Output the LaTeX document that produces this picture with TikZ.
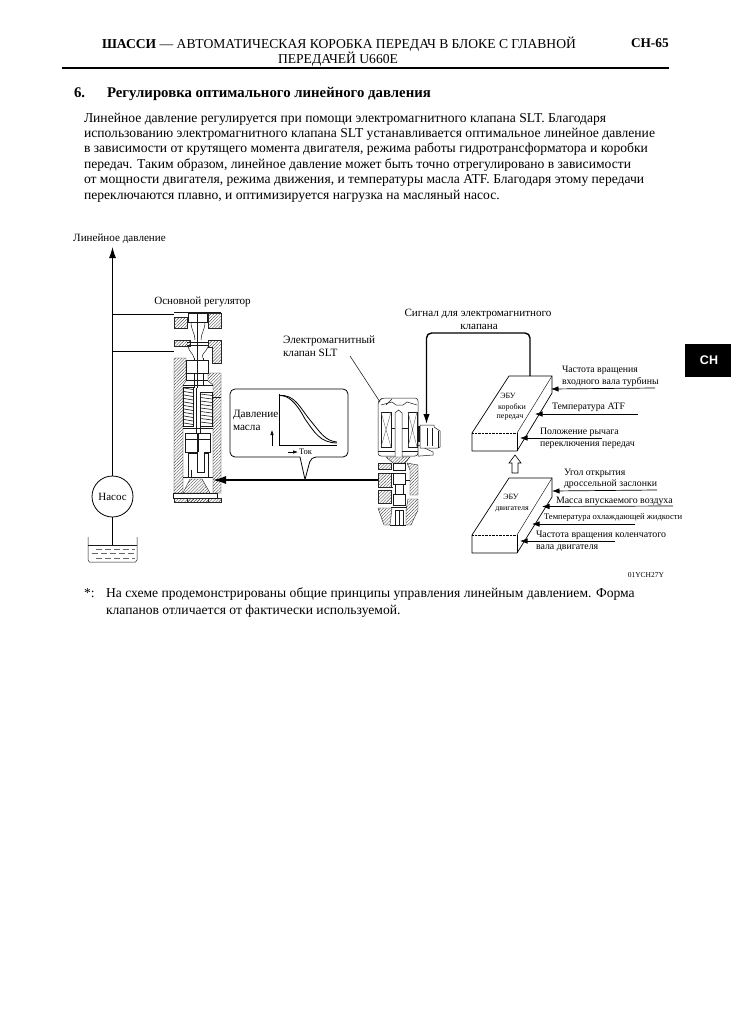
\documentclass[tikz,border=0pt]{standalone}
\usepackage{fontspec}
\setmainfont{Liberation Serif}
\newfontfamily\tabfont{Liberation Sans}
\usetikzlibrary{arrows.meta,patterns.meta}
\newcommand{\fz}[1]{\fontsize{#1}{#1}\selectfont}
\tikzset{
  txt/.style={inner sep=0pt,outer sep=0pt,anchor=base west,yshift={-0.3*#1 pt},font=\fz{#1}},
  txt/.default=13.6,
  ctxt/.style={inner sep=0pt,outer sep=0pt,anchor=base,yshift={-0.3*#1 pt},font=\fz{#1}},
  ctxt/.default=11.1,
  hat/.style={pattern={Lines[angle=45,distance=2.2pt,line width=.4pt]},pattern color=black!70,draw=black!85,line width=.4pt},
  part/.style={draw=black!90,line width=.5pt},
  partw/.style={draw=black!90,fill=white,line width=.5pt},
  lead/.style={draw=black!85,line width=.6pt},
  sens/.style={draw=black,line width=.7pt,-{Latex[length=7.5pt,width=5.5pt]}},
  ecu/.style={draw=black,fill=white,line width=.7pt}
}
\begin{document}
\begin{tikzpicture}[x=1pt,y=-1pt]
\useasboundingbox (0,0) rectangle (731,1035);
\fill[white] (0,0) rectangle (731,1035);
% header
\node[txt=13.6] (h1) at (102,44) {\textbf{ШАССИ} — АВТОМАТИЧЕСКАЯ КОРОБКА ПЕРЕДАЧ В БЛОКЕ С ГЛАВНОЙ};
\node[txt=13.6] (h2) at (278,59) {ПЕРЕДАЧЕЙ U660E};
\node[txt=13.3] (h3) at (631,44) {\textbf{CH-65}};
\fill (62,66.6) rectangle (669,68.6);
\node[txt=14.8] (s0) at (74,93.5) {\textbf{6.}};
\node[txt=14.8] (s1) at (107,93.5) {\textbf{Регулировка оптимального линейного давления}};
\node[txt] (p1) at (84,118) {Линейное давление регулируется при помощи электромагнитного клапана SLT. Благодаря};
\node[txt] (p2) at (84,133) {использованию электромагнитного клапана SLT устанавливается оптимальное линейное давление};
\node[txt] (p3) at (84,148.5) {в зависимости от крутящего момента двигателя, режима работы гидротрансформатора и коробки};
\node[txt] (p4) at (84,164) {передач. Таким образом, линейное давление может быть точно отрегулировано в зависимости};
\node[txt] (p5) at (84,179.5) {от мощности двигателя, режима движения, и температуры масла ATF. Благодаря этому передачи};
\node[txt] (p6) at (84,195) {переключаются плавно, и оптимизируется нагрузка на масляный насос.};
% side tab
\fill[black] (685,344) rectangle (731,377);
\node[ctxt=12.5,text=white,font=\tabfont\bfseries\fz{12.5}] (tab) at (709,361) {CH};
% footnote
\node[txt] (f0) at (84,593) {*:};
\node[txt] (f1) at (106,593) {На схеме продемонстрированы общие принципы управления линейным давлением. Форма};
\node[txt] (f2) at (106,610) {клапанов отличается от фактически используемой.};
\node[ctxt=7.5,anchor=base east] (code) at (664,575) {01YCH27Y};

% ---- labels
\node[ctxt] (lp) at (119.5,238) {Линейное давление};
\node[ctxt] (mr) at (202.5,301) {Основной регулятор};
\node[txt=11.2] (em1) at (283,340) {Электромагнитный};
\node[txt=11.2] (em2) at (283,353) {клапан SLT};
\node[ctxt] (sg1) at (478,313) {Сигнал для электромагнитного};
\node[ctxt] (sg2) at (479,326) {клапана};

% ---- pump and tank
\node[draw,circle,line width=.8pt,minimum size=41pt,inner sep=0pt,font=\fz{11}] (pump) at (112.5,496.5) {Насос};
\coordinate (ptop) at (112.5,247);
\coordinate (tank) at (112.5,545);
\coordinate (b1) at (112.5,314);
\coordinate (b2) at (112.5,351);
\coordinate (port1) at (174,314);
\coordinate (port2) at (174,351);
\draw[line width=.9pt,-{Latex[length=11pt,width=7pt]}] (pump.north) -- (ptop);
\draw[line width=.9pt] (pump.south) -- (tank);
\draw[line width=.9pt] (b1) -- (port1);
\draw[line width=.9pt] (b2) -- (port2);
\draw[part] (88,537) -- (88,560) -- (89.5,562) -- (135.5,562) -- (137,560) -- (137,537);
\draw[part] (88,545) -- (137,545);
\draw[draw=black!60,line width=.4pt,dash pattern=on 6pt off 3pt] (96,549) -- (135,549);
\draw[draw=black!60,line width=.4pt,dash pattern=on 6pt off 3pt] (92,553.5) -- (135,553.5);
\draw[draw=black!60,line width=.4pt,dash pattern=on 6pt off 3pt] (96,558) -- (135,558);

% ---- main regulator
\draw[part] (174,312.5) -- (221,312.5);
\draw[hat] (174,317) -- (187,317) -- (187,328) -- (174,328) -- cycle;
\draw[hat] (208,313) -- (221,313) -- (221,328) -- (208,328) -- cycle;
\draw[hat] (174,340) -- (190,340) -- (190,346) -- (174,346) -- cycle;
\draw[hat] (208,340) -- (221,340) -- (221,363) -- (212,363) -- (212,347) -- (208,347) -- cycle;
\draw[hat] (174,358) -- (186,358) -- (186,381) -- (183,385) -- (183,493) -- (174,493) -- cycle;
\draw[hat] (221,373) -- (208,373) -- (208,381) -- (213,385) -- (213,493) -- (221,493) -- cycle;
\draw[hat] (174,498) -- (174,502) -- (221,502) -- (221,498) -- cycle;
\draw[partw] (173,493) rectangle (217,498);
\draw[hat] (187,498) rectangle (208,502);
\draw[hat] (183,493) -- (190,479) -- (202,479) -- (210,493) -- cycle;
% spool, upper part
\draw[partw] (188,313) rectangle (197,322);
\draw[partw] (197,313) rectangle (207,322);
\draw[part] (191,322) .. controls (191,330) and (195,333) .. (195,340);
\draw[part] (205,322) .. controls (205,330) and (201,333) .. (201,340);
\draw[part] (187,342) -- (209,342);
\draw[part] (187,345) -- (209,345);
\draw[part] (188,346) .. controls (189,352) and (193,353) .. (194,358);
\draw[part] (208,347) .. controls (206,352) and (202,353) .. (202,358);
\draw[part] (197,322) -- (197,388);
\draw[part] (194,358) -- (194,388);
\draw[part] (203,358) -- (203,385);
\draw[partw] (186,360) rectangle (197,373);
\draw[partw] (197,360) rectangle (208,373);
\draw[part] (186,373) -- (186,380) -- (208,380);
\draw[part] (183,385) -- (213,385);
\draw[part] (213,397) -- (221,397);
% springs
\foreach \yy in {388,391.5,...,425}{
  \draw[part,line width=.6pt] (184,\yy) -- (193,\yy+1.5);
}
\foreach \yy in {394,397.5,...,425}{
  \draw[part,line width=.6pt] (200.5,\yy) -- (212,\yy+1.5);
}
\draw[part] (183.5,387) rectangle (193,426);
\draw[part] (200.5,392) rectangle (212,426);
\draw[part] (196,388) -- (196,452);
\draw[part] (200,392) -- (200,452);
% spool, lower part
\draw[partw] (185,433) rectangle (197,452);
\draw[partw] (198,433) rectangle (210,452);
\draw[part] (183,428) -- (213,428);
\draw[part] (185,439) -- (197,439);
\draw[part] (198,439) -- (210,439);
\draw[partw] (188,453) rectangle (208,477);
\draw[partw] (197,452) -- (197,472) -- (204,472) -- (204,452);
\draw[part] (191,477) -- (191,470);
\draw[part] (183,477) -- (213,477);

% ---- solenoid valve
\draw[partw,rounded corners=3pt] (378,402) -- (382,398) -- (418,398) -- (418,456) -- (378,456) -- cycle;
\draw[part] (386,405) -- (392,399);
\draw[part] (381,405) -- (392,402) -- (396,405) -- (403,405) -- (407,402) -- (417,405);
\draw[part] (381,412) rectangle (391,447);
\draw[part] (408,412) rectangle (417,447);
\draw[draw=black!60,line width=.4pt] (381,412) -- (391,447) (391,412) -- (381,447);
\draw[draw=black!60,line width=.4pt] (408,412) -- (417,447) (417,412) -- (408,447);
\draw[partw] (395,457) -- (395,413) -- (398.5,410) -- (402,413) -- (402,457);
\draw[part] (391,428) -- (395,428) (402,428) -- (408,428);
\draw[part] (378,451) -- (395,451) (402,451) -- (418,451);
% connector
\draw[partw] (418,445) -- (433,452) -- (433,455) -- (420,456) -- (418,456) -- cycle;
\draw[partw] (420,425) -- (434,425) -- (434,427) -- (440,431) -- (440,447) -- (438,448) -- (420,448) -- cycle;
\draw[part] (427,428) -- (427,446) (432,428) -- (432,446) (438,431) -- (438,448);
\draw[part,line width=1.1pt] (419,426) -- (419,442);
% valve lower body
\draw[hat] (378,463) -- (391,463) -- (391,469) -- (378,469) -- cycle;
\draw[hat] (378,473) -- (391,473) -- (391,487) -- (378,487) -- cycle;
\draw[hat] (378,490) -- (391,490) -- (391,503) -- (378,503) -- cycle;
\draw[hat] (378,508) -- (392,508) -- (390,525) -- (384,525) -- cycle;
\draw[hat] (407,463) -- (418,465) -- (418,495) -- (410,495) -- (410,470) -- cycle;
\draw[hat] (408,499) -- (418,499) -- (418,510) -- (411,525) -- (406,525) -- (406,510) -- cycle;
\draw[hat] (386,457) -- (410,457) -- (405,463) -- (393,463) -- cycle;
\draw[part] (391,473) -- (393,473) (391,487) -- (393,487) (405,480) -- (410,480);
\draw[partw] (393,463) rectangle (405,470);
\draw[partw] (393,473) rectangle (405,484);
\draw[partw] (395,484) rectangle (403,494);
\draw[partw] (393,494) rectangle (405,505);
\draw[part] (391,507) -- (407,507);
\draw[partw] (395,510) rectangle (403,525);
\draw[part] (399,510) -- (399,525);
\draw[part,line width=.9pt] (390,525) -- (406,525);

% ---- pressure line with call-out
\coordinate (slvout) at (378,480);
\coordinate (regin) at (213,480);
\draw[line width=1.1pt,-{Latex[length=13pt,width=8pt]}] (slvout) -- (regin);
\draw[line width=.8pt,fill=white,rounded corners=5pt] (300,457) -- (230,457) -- (230,389) -- (348,389) -- (348,457) -- (311,457) [sharp corners] -- (305,479.5) -- cycle;
\draw[line width=.7pt] (279,394) -- (279,445.5) -- (337,445.5);
\draw[line width=.8pt] (279,395.5) .. controls (295,394) and (300,408) .. (310,420) .. controls (320,432) and (325,441) .. (337,442);
\draw[line width=.8pt] (279,395.5) .. controls (288,395) and (296,402) .. (305,419) .. controls (315,433) and (320,442.5) .. (337,443);
\node[txt=11.2] (pr1) at (233,414) {Давление};
\node[txt=11.2] (pr2) at (233,427) {масла};
\coordinate (ya0) at (272,446);
\coordinate (ya1) at (272,430);
\coordinate (xa0) at (288,452);
\coordinate (xa1) at (298,452);
\draw[line width=.6pt,-{Latex[length=5pt,width=3.5pt]}] (ya0) -- (ya1);
\draw[line width=.6pt,-{Latex[length=5pt,width=3.5pt]}] (xa0) -- (xa1);
\node[txt=8.5] (tok) at (299,451.5) {Ток};

% ---- leader to solenoid
\coordinate (emt) at (350,356);
\coordinate (emh) at (380,402);
\draw[lead] (emt) -- (emh);

% ---- ECU TM
\draw[ecu] (472,433) -- (509,376) -- (552,376) -- (552,393) -- (517,451) -- (472,451) -- cycle;
\draw[line width=.4pt] (517,433) -- (552,376);
\draw[line width=.4pt,densely dotted] (472,433) -- (517,433);
\draw[line width=.5pt] (517,433) -- (517,451);
\node[ctxt=8] (e1a) at (508,396) {ЭБУ};
\node[ctxt=8] (e1b) at (512,407) {коробки};
\node[ctxt=8] (e1c) at (510,416) {передач};
% ---- ECU engine
\draw[ecu] (472,535) -- (509,478) -- (552,478) -- (552,497) -- (517,553) -- (472,553) -- cycle;
\draw[line width=.4pt] (517,535) -- (552,478);
\draw[line width=.4pt,densely dotted] (472,535) -- (517,535);
\draw[line width=.5pt] (517,535) -- (517,553);
\node[ctxt=8] (e2a) at (511,497) {ЭБУ};
\node[ctxt=8] (e2b) at (512,508) {двигателя};
% hollow arrow
\draw[line width=.6pt,fill=white] (515,455) -- (521,463) -- (518,463) -- (518,473) -- (512,473) -- (512,463) -- (509,463) -- cycle;

% signal wire
\coordinate (wfrom) at (530,376);
\coordinate (wto) at (426.5,424);
\draw[line width=1.4pt,rounded corners=5pt,-{Latex[length=10pt,width=6.5pt]}] (wfrom) -- (530,333) -- (426.5,333) -- (wto);

% sensor inputs
\coordinate (s1a) at (655,388); \coordinate (s1b) at (551,389);
\coordinate (s2a) at (638,414); \coordinate (s2b) at (535,414);
\coordinate (s3a) at (602,438); \coordinate (s3b) at (520,438);
\coordinate (s4a) at (657,490); \coordinate (s4b) at (552,491);
\coordinate (s5a) at (673,506); \coordinate (s5b) at (542,506.5);
\coordinate (s6a) at (635,524); \coordinate (s6b) at (532,524);
\coordinate (s7a) at (615,541); \coordinate (s7b) at (520,541);
\foreach \i in {1,...,7}{\draw[sens] (s\i a) -- (s\i b);}
\node[txt=9.8] (t1a) at (562,370) {Частота вращения};
\node[txt=9.8] (t1b) at (562,382) {входного вала турбины};
\node[txt=9.8] (t2) at (552,407) {Температура ATF};
\node[txt=9.8] (t3a) at (540,432) {Положение рычага};
\node[txt=9.8] (t3b) at (540,444) {переключения передач};
\node[txt=9.8] (t4a) at (564,473) {Угол открытия};
\node[txt=9.8] (t4b) at (564,484) {дроссельной заслонки};
\node[txt=9.9] (t5) at (556,501) {Масса впускаемого воздуха};
\node[txt=8.6] (t6) at (544,517) {Температура охлаждающей жидкости};
\node[txt=9.9] (t7a) at (536,535) {Частота вращения коленчатого};
\node[txt=9.9] (t7b) at (536,547) {вала двигателя};
\end{tikzpicture}
\end{document}
